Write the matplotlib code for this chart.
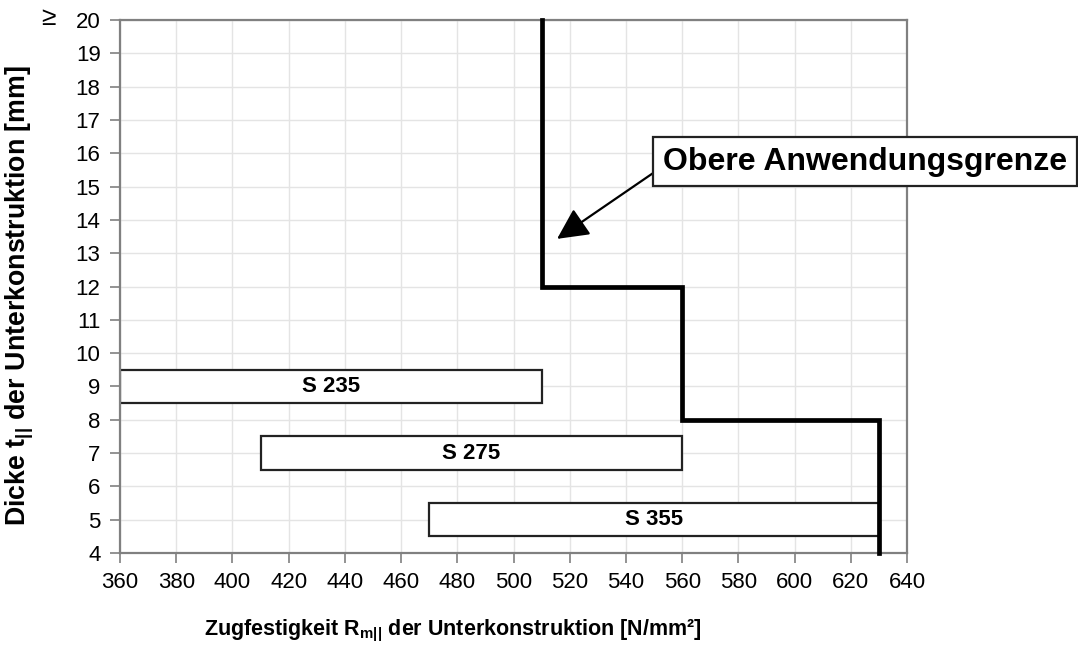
import numpy as np
import matplotlib
matplotlib.use('Agg')
import matplotlib.pyplot as plt

plt.rcParams['font.family'] = ['Liberation Sans', 'DejaVu Sans']
plt.rcParams['mathtext.fontset'] = 'custom'
plt.rcParams['mathtext.rm'] = 'Liberation Sans:bold'
plt.rcParams['mathtext.it'] = 'Liberation Sans:bold'
plt.rcParams['mathtext.bf'] = 'Liberation Sans:bold'

# steel grades: strength range and thickness row
grades = ['S 235', 'S 275', 'S 355']
r_min = [360, 410, 470]
r_max = [510, 560, 630]
t_row = [9, 7, 5]

# upper limit of application (step line)
limit_r = [510, 510, 560, 560, 630, 630]
limit_t = [20, 12, 12, 8, 8, 4]

x_ticks = np.arange(360, 641, 20)
y_ticks = np.arange(4, 21, 1)

fig = plt.figure(figsize=(10.78, 6.45), dpi=100)
ax = fig.add_axes([0.1113, 0.1426, 0.7301, 0.8264])

ax.grid(True, color='#e4e4e4', lw=1.0, zorder=0)
ax.set_axisbelow(True)

ax.barh(t_row, np.array(r_max) - np.array(r_min), left=r_min, height=1.0,
        color='white', edgecolor='#222222', lw=1.6, zorder=2)
for g, a, b, t in zip(grades, r_min, r_max, t_row):
    ax.text((a + b) / 2, t, g, ha='center', va='center', fontsize=16,
            fontweight='bold', zorder=3)

ax.plot(limit_r, limit_t, color='black', lw=3.4, zorder=4, solid_joinstyle='miter',
        clip_on=False)

ax.annotate('Obere Anwendungsgrenze', xy=(515.5, 13.43), xytext=(625.0, 15.74),
            fontsize=23, fontweight='bold', ha='center', va='center',
            annotation_clip=False,
            bbox=dict(boxstyle='square,pad=0.3', fc='white', ec='#222222', lw=1.6),
            arrowprops=dict(arrowstyle='-|>', color='black', lw=1.6,
                            mutation_scale=48, relpos=(0, 0.35), shrinkA=0, shrinkB=0),
            zorder=5)

ax.set_xlim(360, 640)
ax.set_ylim(4, 20)
ax.set_xticks(x_ticks)
ax.set_yticks(y_ticks)
ax.tick_params(axis='both', direction='out', length=7, width=1.2, color='#808080',
               labelsize=16, pad=7)
for s in ax.spines.values():
    s.set_color('#808080')
    s.set_linewidth(1.6)

ax.annotate('≥', xy=(0, 20), xycoords=('axes fraction', 'data'), xytext=(-72, 2),
            textcoords='offset pixels', ha='center', va='center', fontsize=19)

ax.set_xlabel(r'Zugfestigkeit R$_{\mathrm{m||}}$ der Unterkonstruktion [N/mm²]',
              fontsize=15.5, fontweight='bold')
ax.xaxis.set_label_coords(0.423, -0.121)
ax.set_ylabel(r'Dicke t$_{\mathrm{||}}$ der Unterkonstruktion [mm]',
              fontsize=19.3, fontweight='bold')
ax.yaxis.set_label_coords(-0.107, 0.483)

fig.savefig('out.png', dpi=100)
